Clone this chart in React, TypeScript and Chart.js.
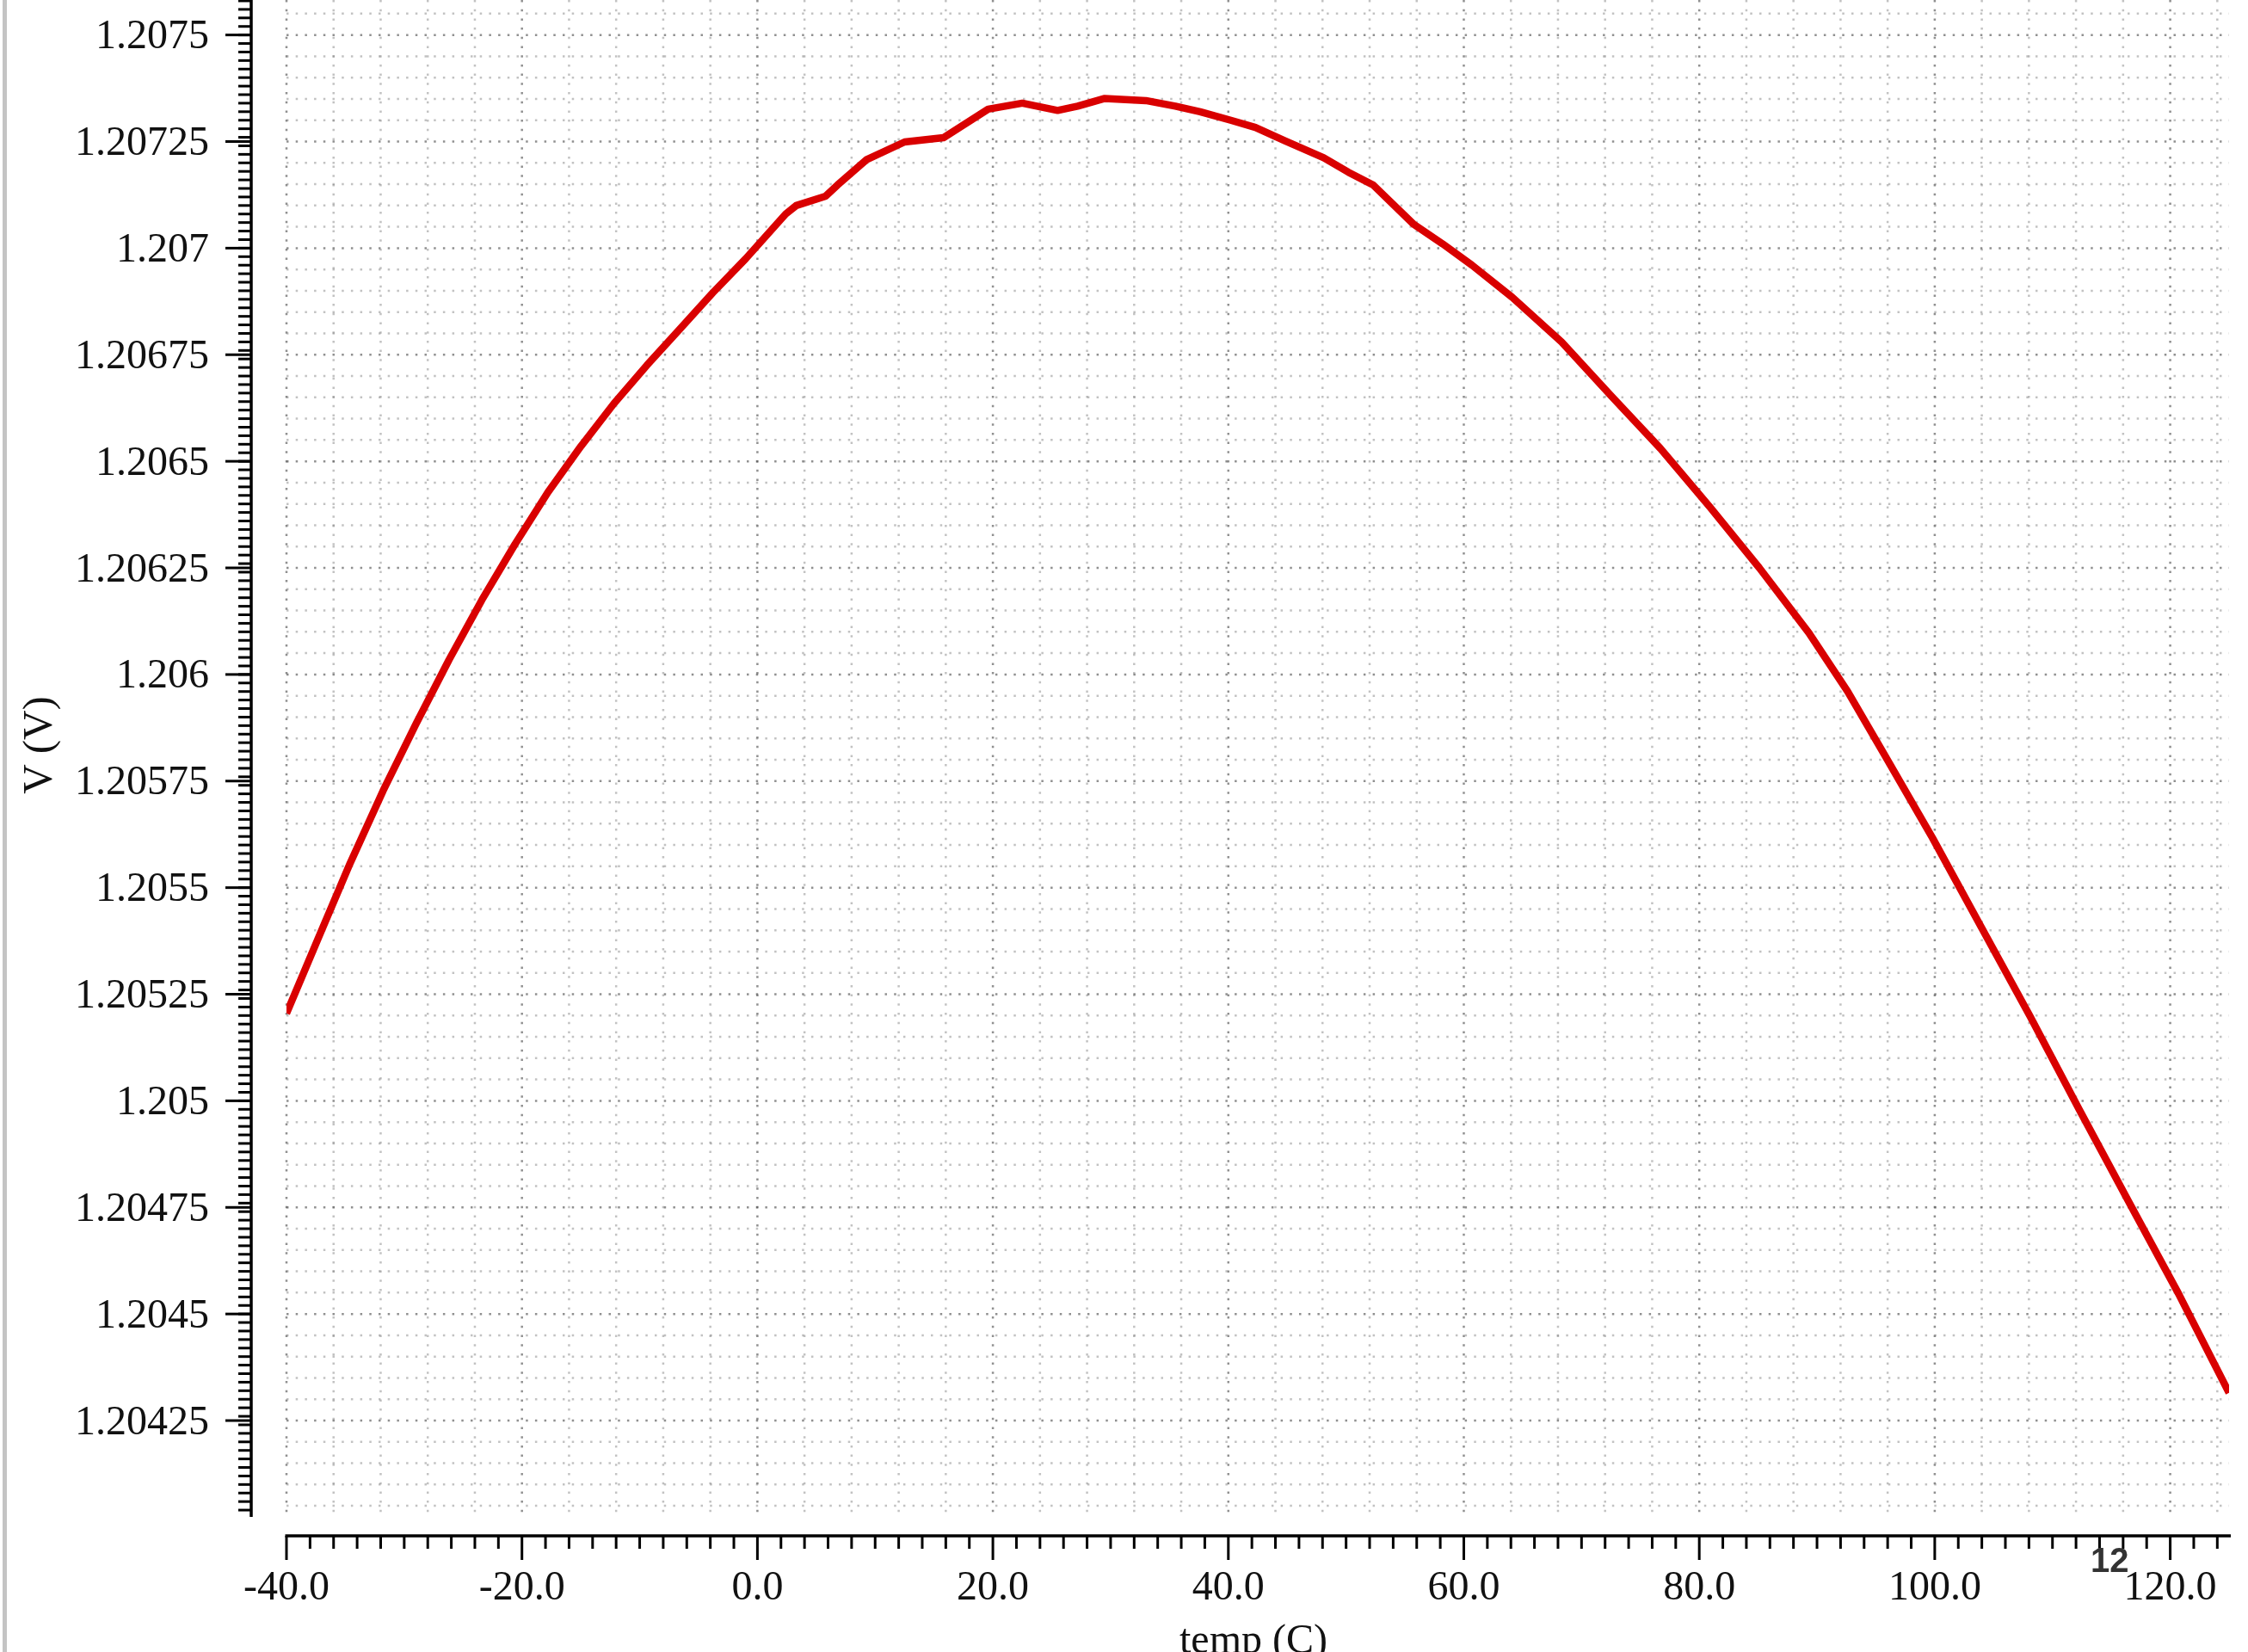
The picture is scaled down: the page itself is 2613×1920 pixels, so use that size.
import React, { useEffect, useRef } from 'react';
import { Chart, registerables } from 'chart.js';

Chart.register(...registerables);

// ---- data ----
const tempC = [
  -40, -37.4, -34.6, -31.8, -29.0, -26.2, -23.4, -20.6, -17.8, -15.0,
  -12.2, -9.4, -6.6, -3.8, -1.0, 2.4, 3.3, 5.8, 6.8, 9.3,
  12.5, 15.8, 19.6, 22.5, 25.5, 27.2, 29.5, 33.0, 35.5, 37.6,
  40.2, 42.3, 44.8, 48.1, 50.2, 52.3, 55.7, 58.2, 60.7, 64.1,
  68.3, 72.5, 76.7, 80.9, 85.1, 89.3, 92.6, 95.6, 99.8, 104.0,
  108.1, 112.3, 116.5, 120.7, 125.0,
];
const vrefV = [
  1.205205, 1.205375, 1.205557, 1.205727, 1.205884, 1.206034, 1.206175, 1.206305, 1.206427, 1.206535,
  1.206635, 1.206725, 1.20681, 1.206895, 1.206975, 1.20708, 1.2071, 1.207122, 1.207148, 1.207208,
  1.207249, 1.207259, 1.207326, 1.20734, 1.207323, 1.207333, 1.207351, 1.207346, 1.207333, 1.20732,
  1.2073, 1.207283, 1.207252, 1.207212, 1.207178, 1.207148, 1.207057, 1.20701, 1.20696, 1.206885,
  1.20678, 1.206654, 1.20653, 1.206393, 1.20625, 1.206098, 1.20596, 1.205818, 1.205617, 1.205405,
  1.205198, 1.204978, 1.204762, 1.204548, 1.204315,
];

const X_MIN = -40;
const X_MAX = 125;
const Y_MIN = 1.204024;
const Y_MAX = 1.207582;
const X_LABEL_STEP = 20;
const X_MINOR_STEP = 2;
const X_GRID_STEP = 4;
const Y_LABEL_STEP = 0.00025;
const Y_MINOR_STEP = 0.00002;
const Y_GRID_STEP = 0.00005;
const X_TITLE = 'temp (C)';
const Y_TITLE = 'V (V)';
const PAGE_MARK = '12';

const SERIF = '"Liberation Serif", "DejaVu Serif", "Times New Roman", serif';
const SANS = '"Liberation Sans", Arial, Helvetica, sans-serif';

const cadencePlugin = {
  id: 'cadenceLook',
  beforeDraw(chart: any) {
    const { ctx } = chart;
    ctx.save();
    ctx.fillStyle = '#ffffff';
    ctx.fillRect(0, 0, chart.width, chart.height);
    ctx.fillStyle = '#c4c4c4';
    ctx.fillRect(3, 0, 5, chart.height);
    ctx.restore();
  },
  beforeDatasetsDraw(chart: any) {
    const { ctx, chartArea: a, scales } = chart;
    const x = scales.x;
    const y = scales.y;
    ctx.save();
    ctx.lineWidth = 2.5;
    ctx.setLineDash([2.5, 8.2]);
    const minorCol = 'rgba(120,120,120,0.45)';
    const majorCol = 'rgba(85,85,85,0.65)';
    // vertical dotted grid
    const nx = Math.round((X_MAX - X_MIN) / X_GRID_STEP);
    for (let i = 0; i <= nx; i++) {
      const v = X_MIN + i * X_GRID_STEP;
      if (v > X_MAX) break;
      const px = x.getPixelForValue(v);
      ctx.strokeStyle = v % X_LABEL_STEP === 0 ? majorCol : minorCol;
      ctx.beginPath();
      ctx.moveTo(px, a.top);
      ctx.lineTo(px, a.bottom);
      ctx.stroke();
    }
    // horizontal dotted grid
    const k0 = Math.ceil(Y_MIN / Y_GRID_STEP - 1e-6);
    const k1 = Math.floor(Y_MAX / Y_GRID_STEP + 1e-6);
    for (let k = k0; k <= k1; k++) {
      const py = y.getPixelForValue(k * Y_GRID_STEP);
      ctx.strokeStyle = k % 5 === 0 ? majorCol : minorCol;
      ctx.beginPath();
      ctx.moveTo(a.left, py);
      ctx.lineTo(a.right, py);
      ctx.stroke();
    }
    ctx.restore();
  },
  afterDraw(chart: any) {
    const { ctx, chartArea: a, scales } = chart;
    const x = scales.x;
    const y = scales.y;
    const axisX = a.left - 41;
    const axisY = a.bottom + 22;
    ctx.save();
    ctx.setLineDash([]);
    ctx.strokeStyle = '#000';
    ctx.lineCap = 'butt';
    // y axis line
    ctx.lineWidth = 3.5;
    ctx.beginPath();
    ctx.moveTo(axisX, 0);
    ctx.lineTo(axisX, a.bottom);
    ctx.stroke();
    // y minor ticks
    ctx.lineWidth = 3;
    const m0 = Math.ceil(Y_MIN / Y_MINOR_STEP - 1e-6);
    const m1 = Math.floor(Y_MAX / Y_MINOR_STEP + 1e-6);
    for (let k = m0; k <= m1; k++) {
      const py = y.getPixelForValue(k * Y_MINOR_STEP);
      ctx.beginPath();
      ctx.moveTo(axisX - 15, py);
      ctx.lineTo(axisX, py);
      ctx.stroke();
    }
    // y major ticks
    const j0 = Math.ceil(Y_MIN / Y_LABEL_STEP - 1e-6);
    const j1 = Math.floor(Y_MAX / Y_LABEL_STEP + 1e-6);
    for (let k = j0; k <= j1; k++) {
      const py = y.getPixelForValue(k * Y_LABEL_STEP);
      ctx.beginPath();
      ctx.moveTo(axisX - 30, py);
      ctx.lineTo(axisX, py);
      ctx.stroke();
    }
    // x axis line
    ctx.lineWidth = 3.5;
    ctx.beginPath();
    ctx.moveTo(a.left - 1.5, axisY);
    ctx.lineTo(a.right + 2, axisY);
    ctx.stroke();
    // x ticks
    ctx.lineWidth = 3;
    const nx = Math.round((X_MAX - X_MIN) / X_MINOR_STEP);
    for (let i = 0; i <= nx; i++) {
      const v = X_MIN + i * X_MINOR_STEP;
      if (v > X_MAX) break;
      const px = x.getPixelForValue(v);
      const major = v % X_LABEL_STEP === 0;
      ctx.beginPath();
      ctx.moveTo(px, axisY);
      ctx.lineTo(px, axisY + (major ? 28 : 15));
      ctx.stroke();
    }
    // axis titles
    ctx.fillStyle = '#111';
    ctx.font = `48px ${SERIF}`;
    ctx.textAlign = 'center';
    ctx.textBaseline = 'alphabetic';
    ctx.fillText(X_TITLE, (a.left + a.right) / 2 - 5, 1921);
    ctx.save();
    ctx.translate(60, 866);
    ctx.rotate(-Math.PI / 2);
    ctx.fillText(Y_TITLE, 0, 0);
    ctx.restore();
    // page mark
    ctx.fillStyle = '#333';
    ctx.font = `bold 40px ${SANS}`;
    ctx.textAlign = 'left';
    ctx.fillText(PAGE_MARK, 2430, 1827);
    ctx.restore();
  },
};

export default function App() {
  const ref = useRef<HTMLCanvasElement>(null);

  useEffect(() => {
    if (!ref.current) return;
    const chart = new Chart(ref.current, {
      type: 'line',
      data: {
        datasets: [
          {
            label: 'V',
            data: tempC.map((t, i) => ({ x: t, y: vrefV[i] })),
            borderColor: '#d90000',
            borderWidth: 8.5,
            pointRadius: 0,
            tension: 0,
            fill: false,
            borderJoinStyle: 'round',
          },
        ],
      },
      options: {
        animation: false,
        responsive: false,
        devicePixelRatio: 1,
        events: [],
        layout: { padding: { left: 0, right: 22, top: 0, bottom: 0 }, autoPadding: false },
        plugins: { legend: { display: false }, tooltip: { enabled: false }, title: { display: false } },
        scales: {
          x: {
            type: 'linear',
            position: 'bottom',
            min: X_MIN,
            max: X_MAX,
            grid: { display: false, drawTicks: false, tickLength: 0 },
            border: { display: false },
            ticks: {
              stepSize: X_LABEL_STEP,
              includeBounds: false,
              autoSkip: false,
              maxRotation: 0,
              minRotation: 0,
              padding: 55,
              color: '#111',
              font: { family: SERIF, size: 48 },
              callback: (v: any) => Number(v).toFixed(1),
            },
            afterFit: (s: any) => {
              s.height = 157;
              s.paddingLeft = 0;
              s.paddingRight = 0;
              s.paddingTop = 0;
              s.paddingBottom = 0;
            },
          },
          y: {
            type: 'linear',
            position: 'left',
            min: Y_MIN,
            max: Y_MAX,
            grid: { display: false, drawTicks: false, tickLength: 0 },
            border: { display: false },
            ticks: {
              stepSize: Y_LABEL_STEP,
              includeBounds: false,
              autoSkip: false,
              padding: 90,
              labelOffset: 3,
              color: '#111',
              font: { family: SERIF, size: 48 },
              callback: (v: any) => String(parseFloat(Number(v).toFixed(5))),
            },
            afterFit: (s: any) => {
              s.width = 333;
              s.paddingLeft = 0;
              s.paddingRight = 0;
              s.paddingTop = 0;
              s.paddingBottom = 0;
            },
          },
        },
      } as any,
      plugins: [cadencePlugin],
    });
    return () => chart.destroy();
  }, []);

  return (
    <div style={{ position: 'fixed', left: 0, top: 0, width: 2613, height: 1920, background: '#fff' }}>
      <canvas ref={ref} width={2613} height={1920} style={{ display: 'block', width: 2613, height: 1920 }} />
    </div>
  );
}
